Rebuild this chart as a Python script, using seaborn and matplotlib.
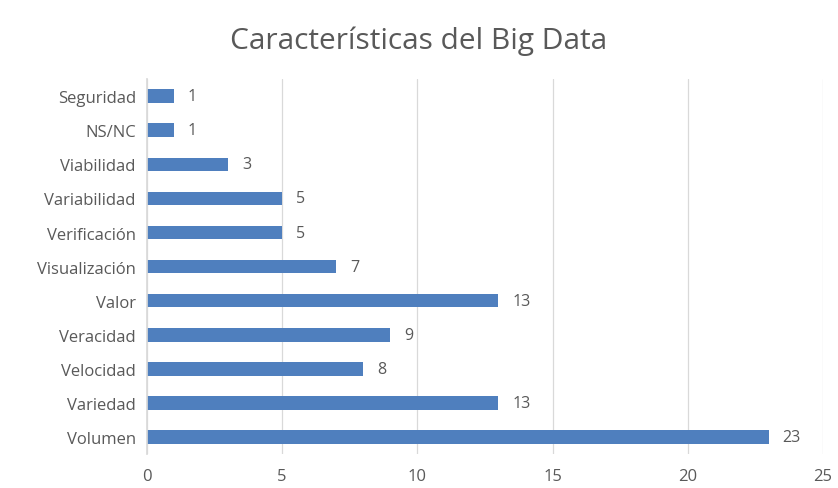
import matplotlib
matplotlib.use("Agg")
import matplotlib.pyplot as plt
import pandas as pd
import seaborn as sns

# data, top to bottom as in the chart
categorias = ["Seguridad", "NS/NC", "Viabilidad", "Variabilidad", "Verificación",
              "Visualización", "Valor", "Veracidad", "Velocidad", "Variedad", "Volumen"]
valores = [1, 1, 3, 5, 5, 7, 13, 9, 8, 13, 23]
ticks_x = [0, 5, 10, 15, 20, 25]

BLUE = "#4F7FBE"
TEXT = "#595959"

sns.set_theme(style="white")
plt.rcParams["font.family"] = ["Open Sans", "DejaVu Sans"]

df = pd.DataFrame({"categoria": categorias, "valor": valores})

fig = plt.figure(figsize=(8.38, 4.89), dpi=100)
ax = fig.add_axes([0.1754, 0.0695, 0.8066, 0.7665])

sns.barplot(data=df, x="valor", y="categoria", orient="h", color=BLUE,
            width=0.4, saturation=1, linewidth=0, ax=ax)

ax.bar_label(ax.containers[0], padding=10, fontsize=11.5, color=TEXT)

ax.set_xlim(0, 25)
ax.set_xticks(ticks_x)
ax.grid(axis="x", color="#D9D9D9", linewidth=0.9)
ax.set_axisbelow(True)
for side in ["top", "right", "bottom"]:
    ax.spines[side].set_visible(False)
ax.spines["left"].set_color("#D9D9D9")
ax.tick_params(axis="both", length=0, colors=TEXT, labelsize=12)
ax.tick_params(axis="x", pad=10)
ax.tick_params(axis="y", pad=8)
ax.set_xlabel("")
ax.set_ylabel("")

fig.suptitle("Características del Big Data", y=0.945, fontsize=21.5, color=TEXT)

fig.savefig("out.png", dpi=100)
